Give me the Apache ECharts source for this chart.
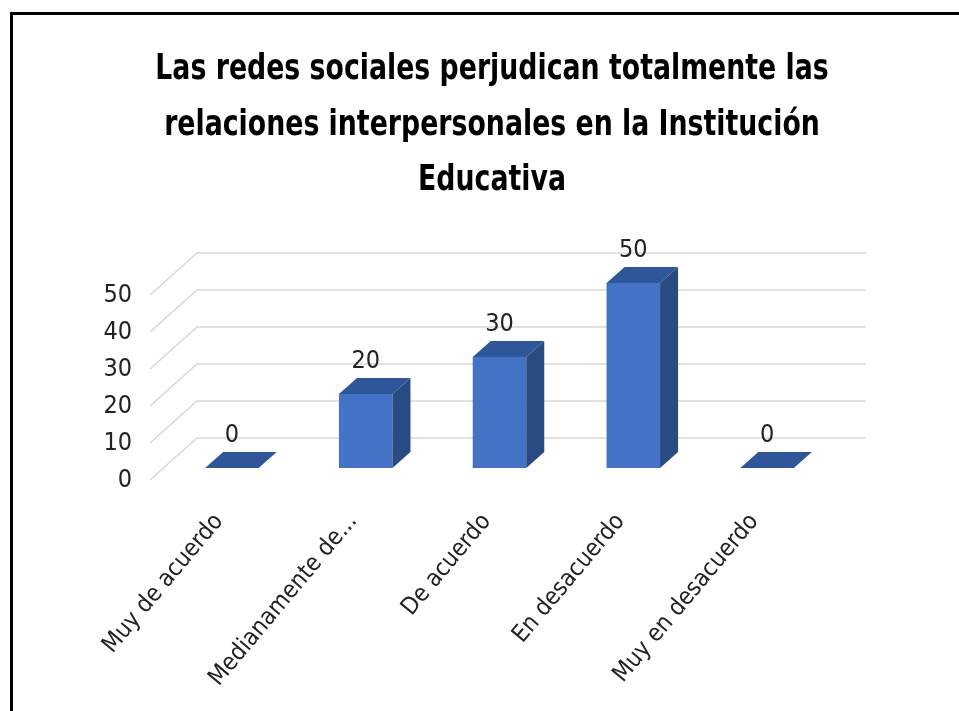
<!DOCTYPE html>
<html>
<head>
<meta charset="utf-8">
<title>Las redes sociales perjudican totalmente las relaciones interpersonales</title>
<script src="https://cdn.jsdelivr.net/npm/echarts@6/dist/echarts.min.js"></script>
<style>
  html, body { margin: 0; padding: 0; background: #fff; }
  #chart { width: 959px; height: 711px; }
</style>
</head>
<body>
<div id="chart"></div>
<script>
// datos del gráfico
var categories = ['Muy de acuerdo', 'Medianamente de...', 'De acuerdo', 'En desacuerdo', 'Muy en desacuerdo']
var values = [0, 20, 30, 50, 0]
var yTicks = [0, 10, 20, 30, 40, 50]
var titleLines = ['Las redes sociales perjudican totalmente las', 'relaciones interpersonales en la Institución', 'Educativa']

var FONT = "'DejaVu Sans Condensed', 'Liberation Sans Narrow', sans-serif"
// profundidad de las paredes (fondo) y de las barras
var WALL_DX = 47, WALL_DY = -42
var BAR_DX = 18, BAR_DY = -16

var chart = echarts.init(document.getElementById('chart'))

// paredes: diagonal lateral + línea del fondo para cada marca
function renderWall(params, api) {
  var cs = params.coordSys
  var y = api.coord([0, api.value(1)])[1]
  return {
    type: 'polyline',
    shape: {
      points: [[cs.x, y], [cs.x + WALL_DX, y + WALL_DY], [cs.x + cs.width + WALL_DX, y + WALL_DY]]
    },
    style: { stroke: '#d9d9d9', lineWidth: 1.6, fill: null },
    silent: true
  }
}

// barras con apariencia 3D
function renderBar(params, api) {
  var base = api.coord([api.value(0), 0])
  var top = api.coord([api.value(0), api.value(1)])
  var w = api.size([1, 0])[0] * 0.4
  var x0 = base[0] - w / 2
  var x1 = x0 + w
  var children = []
  if (base[1] - top[1] > 0.5) {
    children.push({
      type: 'rect',
      shape: { x: x0, y: top[1], width: w, height: base[1] - top[1] },
      style: { fill: '#4472c4' }
    })
    children.push({
      type: 'polygon',
      shape: { points: [[x1, base[1]], [x1 + BAR_DX, base[1] + BAR_DY], [x1 + BAR_DX, top[1] + BAR_DY], [x1, top[1]]] },
      style: { fill: '#2a4a82' }
    })
  }
  children.push({
    type: 'polygon',
    shape: { points: [[x0, top[1]], [x1, top[1]], [x1 + BAR_DX, top[1] + BAR_DY], [x0 + BAR_DX, top[1] + BAR_DY]] },
    style: { fill: '#30569a' }
  })
  children.push({
    type: 'text',
    style: {
      text: String(api.value(1)),
      x: base[0],
      y: top[1] + BAR_DY - 4,
      align: 'center',
      verticalAlign: 'bottom',
      fill: '#222',
      font: '25px ' + FONT
    }
  })
  return { type: 'group', children: children }
}

// título en tres líneas, un poco comprimido en horizontal como el original
var titleY = [70, 125.5, 181]
var titleGraphics = titleLines.map(function(t, i) {
  return {
    type: 'text',
    x: 492,
    y: titleY[i],
    scaleX: 0.85,
    silent: true,
    style: {
      text: t,
      align: 'center',
      verticalAlign: 'middle',
      textAlign: 'center',
      textVerticalAlign: 'middle',
      fill: '#000',
      font: 'bold 35px ' + FONT
    }
  }
})

var option = {
  animation: false,
  backgroundColor: '#fff',
  graphic: [{
    type: 'rect',
    shape: { x: 11.5, y: 13.5, width: 1000, height: 800 },
    style: { fill: null, stroke: '#000', lineWidth: 3 },
    silent: true
  }].concat(titleGraphics),
  grid: [
    // plano frontal (etiquetas del eje Y y paredes)
    { left: 150, right: 140, top: 295, bottom: 231 },
    // plano de las barras
    { left: 165, right: 125, top: 283, bottom: 243 }
  ],
  xAxis: [
    { gridIndex: 0, type: 'category', data: categories, show: false },
    {
      gridIndex: 1,
      type: 'category',
      data: categories,
      axisLine: { show: false },
      axisTick: { show: false },
      axisLabel: {
        interval: 0,
        rotate: 50,
        margin: 34,
        padding: [0, 20, 0, 0],
        fontSize: 24,
        fontFamily: FONT,
        color: '#222'
      }
    }
  ],
  yAxis: [
    {
      gridIndex: 0,
      type: 'value',
      min: 0,
      max: 50,
      interval: 10,
      axisLine: { show: false },
      axisTick: { show: false },
      splitLine: { show: false },
      axisLabel: { margin: 18, fontSize: 25, fontFamily: FONT, color: '#222' }
    },
    { gridIndex: 1, type: 'value', min: 0, max: 50, show: false, splitLine: { show: false } }
  ],
  series: [
    {
      type: 'custom',
      name: 'paredes',
      xAxisIndex: 0,
      yAxisIndex: 0,
      renderItem: renderWall,
      data: yTicks.map(function(v) { return [0, v] }),
      z: 1,
      silent: true
    },
    {
      type: 'custom',
      name: 'valores',
      xAxisIndex: 1,
      yAxisIndex: 1,
      renderItem: renderBar,
      data: values.map(function(v, i) { return [i, v] }),
      z: 2
    }
  ]
}

chart.setOption(option)
</script>
</body>
</html>
